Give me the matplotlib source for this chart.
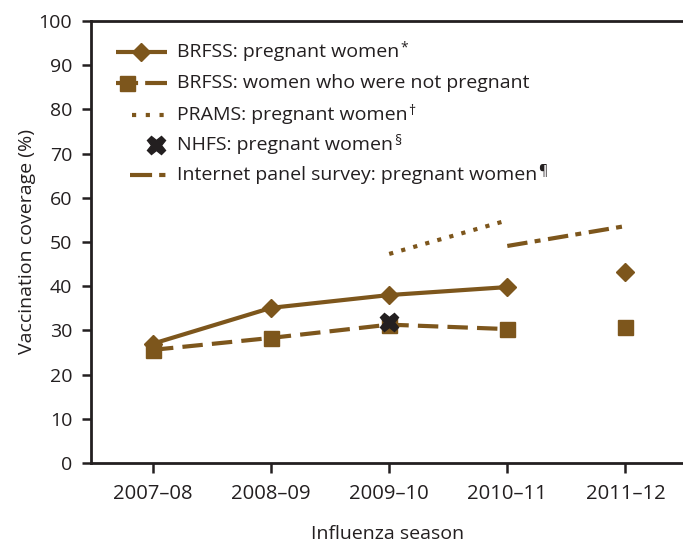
import matplotlib
matplotlib.use("Agg")
import matplotlib.pyplot as plt
import numpy as np

plt.rcParams['font.family'] = ['Open Sans', 'DejaVu Sans']

seasons = ["2007–08", "2008–09", "2009–10", "2010–11", "2011–12"]
brfss_preg = [27.0, 35.1, 38.0, 39.8, 43.1]        # last point not connected
brfss_notpreg = [25.6, 28.3, 31.3, 30.3, 30.8]     # last point not connected
prams_idx = [2, 3]
prams = [47.3, 54.9]
nhfs_idx = [2]
nhfs = [32.0]
panel_idx = [3, 4]
panel = [49.1, 53.6]

legend_labels = ["BRFSS: pregnant women", "BRFSS: women who were not pregnant",
                 "PRAMS: pregnant women", "NHFS: pregnant women",
                 "Internet panel survey: pregnant women"]
legend_marks = ["*", "", "†", "§", "¶"]

BROWN = '#7d561c'
DARK = '#231f20'
FS = 14

W, H = 683, 544
fig = plt.figure(figsize=(W/100, H/100), dpi=100)
ax_l, ax_r, ax_t, ax_b = 91, 684, 21, 463
ax = fig.add_axes([ax_l/W, 1 - ax_b/H, (ax_r-ax_l)/W, (ax_b-ax_t)/H])

x = np.arange(len(seasons))
lw = 3.0
# BRFSS pregnant
ax.plot(x[:4], brfss_preg[:4], color=BROWN, lw=lw, marker='D', ms=9.5, solid_capstyle='butt', zorder=3)
ax.plot(x[4:], brfss_preg[4:], color=BROWN, lw=0, marker='D', ms=9.5, zorder=3)
# BRFSS not pregnant
ax.plot(x[:4], brfss_notpreg[:4], color=BROWN, lw=lw, ls=(0, (4.9, 2.2)), marker='s', ms=10.8,
        dash_capstyle='butt', zorder=3)
ax.plot(x[4:], brfss_notpreg[4:], color=BROWN, lw=0, marker='s', ms=10.8, zorder=3)
# PRAMS
ax.plot(x[prams_idx], prams, color=BROWN, lw=lw, ls=(0, (1, 2)), dash_capstyle='butt', zorder=3)
# NHFS
ax.plot(x[nhfs_idx], nhfs, color=DARK, lw=0, marker='X', ms=13, zorder=4)
# Internet panel
ax.plot(x[panel_idx], panel, color=BROWN, lw=lw, ls=(0, (4.9, 1.75, 1.43, 1.83)), dash_capstyle='butt', zorder=3)

x0 = 153
step = 118.1
xmin = -(x0 - ax_l) / step
xmax = (ax_r - x0) / step
ax.set_xlim(xmin, xmax)
ax.set_ylim(0, 100)
ax.set_xticks(x)
ax.set_xticklabels(seasons, fontsize=14.6)
ax.set_yticks(np.arange(0, 101, 10))
ax.tick_params(axis='y', labelsize=FS, length=6.5, width=1.8, pad=7, colors=DARK)
ax.tick_params(axis='x', labelsize=14.6, length=7, width=1.8, pad=8, colors=DARK)
for s in ['left', 'bottom', 'top']:
    ax.spines[s].set_linewidth(2.0)
    ax.spines[s].set_color(DARK)
ax.spines['right'].set_visible(False)
ax.set_ylabel("Vaccination coverage (%)", fontsize=FS, color=DARK, labelpad=2)
ax.set_xlabel("Influenza season", fontsize=FS, color=DARK, labelpad=15)

# manual legend (pixel positions converted to axes fraction)
def px(xp, yp):
    return ((xp - ax_l) / (ax_r - ax_l), (ax_b - yp) / (ax_b - ax_t))

rows = [52, 83, 115, 145, 175]
T = ax.transAxes
# row 1
a, b = px(116, rows[0]); c, _ = px(167, rows[0]); m, _ = px(141, rows[0])
ax.plot([a, c], [b, b], transform=T, color=BROWN, lw=lw, solid_capstyle='butt', clip_on=False)
ax.plot([m], [b], transform=T, color=BROWN, marker='D', ms=9.5, clip_on=False)
# row 2
a, b = px(116, rows[1]); c, _ = px(167, rows[1]); m, _ = px(127, rows[1])
ax.plot([a, c], [b, b], transform=T, color=BROWN, lw=lw, ls=(0, (5.3, 1.7)), dash_capstyle='butt', clip_on=False)
ax.plot([m], [b], transform=T, color=BROWN, marker='s', ms=10.8, clip_on=False)
# row 3
a, b = px(132, rows[2]); c, _ = px(167, rows[2])
ax.plot([a, c], [b, b], transform=T, color=BROWN, lw=lw, ls=(0, (1, 2.3)), dash_capstyle='butt', clip_on=False)
# row 4
m, b = px(156, rows[3])
ax.plot([m], [b], transform=T, color=DARK, marker='X', ms=13, lw=0, clip_on=False)
# row 5
a, b = px(130, rows[4]); c, _ = px(167, rows[4])
ax.plot([a, c], [b, b], transform=T, color=BROWN, lw=lw, ls=(0, (5.3, 1.7, 1.5, 1.7)), dash_capstyle='butt', clip_on=False)
for r, lab, mk in zip(rows, legend_labels, legend_marks):
    tx, ty = px(177, r)
    t = ax.text(tx, ty, lab, transform=T, fontsize=FS, va='center', ha='left', color=DARK)
    if mk:
        ax.annotate(mk, xy=(1.0, 0.72), xycoords=t, xytext=(0.5, 0), textcoords='offset points',
                    fontsize=10, va='center', ha='left', color=DARK)

fig.savefig("out.png", dpi=100)
